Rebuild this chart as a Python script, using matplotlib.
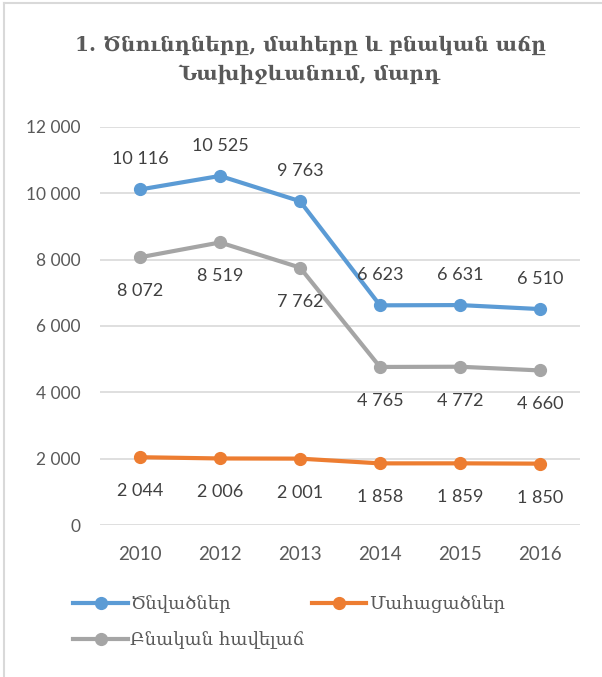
import matplotlib.pyplot as plt
from matplotlib.lines import Line2D

# Data
years = ["2010", "2012", "2013", "2014", "2015", "2016"]
born = [10116, 10525, 9763, 6623, 6631, 6510]
deaths = [2044, 2006, 2001, 1858, 1859, 1850]
natural = [8072, 8519, 7762, 4765, 4772, 4660]

title = "1. Ծնունդները, մահերը և բնական աճը\nՆախիջևանում, մարդ"
names = ["Ծնվածներ", "Մահացածներ", "Բնական հավելաճ"]

blue = "#5B9BD5"
orange = "#ED7D31"
gray = "#A5A5A5"
txt = "#595959"
arm_font = ["DejaVu Serif", "DejaVu Sans"]
num_font = "Lato"

def fmt(v):
    return f"{v:,}".replace(",", " ")

fig = plt.figure(figsize=(6.02, 6.77), dpi=100)
ax = fig.add_axes([100 / 602, 1 - 525 / 677, 480 / 602, 398 / 677])

x = list(range(len(years)))
series = [(born, blue, 30), (deaths, orange, -34), (natural, gray, -34)]
for vals, col, off in series:
    ax.plot(x, vals, color=col, lw=3, marker="o", ms=8.5, zorder=3,
            solid_capstyle="round")
    for xi, v in zip(x, vals):
        ax.annotate(fmt(v), (xi, v), xytext=(0, off * 0.72), textcoords="offset points",
                    ha="center", va="center", fontsize=13, color="#404040",
                    family=num_font)

ax.set_xlim(-0.5, len(years) - 0.5)
ax.set_ylim(0, 12000)
ax.set_yticks(range(0, 12001, 2000))
ax.set_yticklabels([fmt(v) for v in range(0, 12001, 2000)], family=num_font,
                   fontsize=12.5, color=txt)
ax.set_xticks(x)
ax.set_xticklabels(years, family=num_font, fontsize=13.5, color=txt)
ax.tick_params(length=0, pad=14)
ax.tick_params(axis="x", pad=15)
ax.grid(axis="y", color="#D9D9D9", lw=1.2)
ax.set_axisbelow(True)
for s in ax.spines.values():
    s.set_visible(False)

fig.text(0.515, 0.912, title, ha="center", va="center", fontsize=14.5,
         fontweight="bold", color=txt, family=arm_font, linespacing=1.55)

# legend: first column blue + gray, second column orange
handles = [Line2D([], [], color=c, lw=3, marker="o", ms=8.5) for c in (blue, orange, gray)]
order = [0, 2, 1]
fig.legend([handles[i] for i in order], [names[i] for i in order], ncol=2,
           loc="upper left", bbox_to_anchor=(0.095, 0.145), frameon=False,
           prop={"family": arm_font, "size": 13}, labelcolor=txt,
           handlelength=3.0, handletextpad=0.15, columnspacing=0.4,
           labelspacing=1.0)

# chart frame (only left and top edges visible)
fig.add_artist(Line2D([0.006, 0.006], [0, 0.996], color="#D9D9D9", lw=1.5))
fig.add_artist(Line2D([0.006, 1], [0.996, 0.996], color="#D9D9D9", lw=1.5))

fig.savefig("out.png", dpi=100)
